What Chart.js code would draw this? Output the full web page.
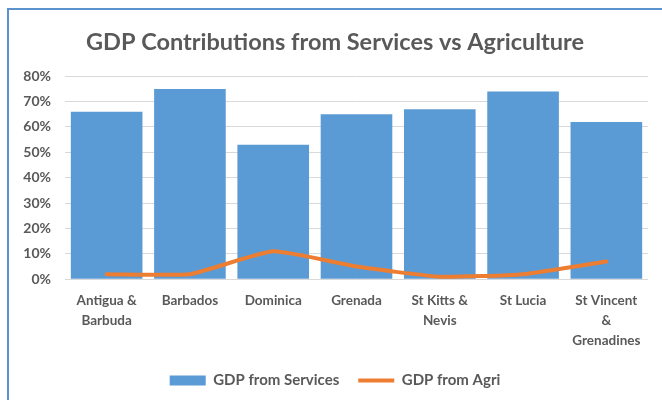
<!DOCTYPE html>
<html>
<head>
<meta charset="utf-8">
<script src="https://cdn.jsdelivr.net/npm/chart.js@4"></script>
<style>
  html, body { margin: 0; padding: 0; background: #fff; overflow: hidden; }
  #wrap { position: relative; width: 662px; height: 400px; }
  #frame { position: absolute; left: 7px; top: 8px; width: 700px; height: 450px;
           border-left: 2px solid #5b93cf; border-top: 2px solid #5b93cf; }
  canvas { position: absolute; left: 0; top: 0; }
</style>
</head>
<body>
<div id="wrap">
  <div id="frame"></div>
  <canvas id="chartCanvas" width="662" height="400"></canvas>
</div>
<script>
const countries = [
  ["Antigua &", "Barbuda"],
  "Barbados",
  "Dominica",
  "Grenada",
  ["St Kitts &", "Nevis"],
  "St Lucia",
  ["St Vincent", "&", "Grenadines"]
];
const services = [66, 75, 53, 65, 67, 74, 62];
const agri = [2, 2, 11, 5, 1, 2, 7];

const grey = "#595959";
const fontFam = "Lato, 'Open Sans', sans-serif";

const ctx = document.getElementById("chartCanvas");

const chart = new Chart(ctx, {
  type: "bar",
  data: {
    labels: countries,
    datasets: [{
      label: "GDP from Services",
      data: services,
      backgroundColor: "#5b9bd5",
      barPercentage: 0.86,
      categoryPercentage: 1,
      order: 1
    }, {
      type: "line",
      label: "GDP from Agri",
      data: agri,
      borderColor: "#ed7d31",
      backgroundColor: "#ed7d31",
      borderWidth: 4,
      pointRadius: 0,
      tension: 0.15,
      borderJoinStyle: "round",
      borderCapStyle: "round",
      order: 0
    }]
  },
  options: {
    responsive: false,
    animation: false,
    layout: { padding: { left: 22, right: 14, top: 10, bottom: 2 } },
    plugins: {
      title: {
        display: true,
        text: "GDP Contributions from Services vs Agriculture",
        color: grey,
        font: { family: fontFam, size: 23.5, weight: "bold" },
        padding: { top: 18, bottom: 20 }
      },
      legend: {
        position: "bottom",
        labels: {
          color: grey,
          font: { family: fontFam, size: 15, weight: "bold" },
          usePointStyle: true,
          pointStyleWidth: 36,
          boxHeight: 10,
          padding: 19,
          sort: (a, b) => a.datasetIndex - b.datasetIndex,
          generateLabels(c) {
            const items = Chart.defaults.plugins.legend.labels.generateLabels(c);
            items.forEach(it => {
              it.pointStyle = it.datasetIndex === 0 ? "rect" : "line";
              it.lineWidth = it.datasetIndex === 0 ? 0 : 4;
            });
            return items;
          }
        }
      },
      tooltip: { enabled: false }
    },
    scales: {
      x: {
        grid: { display: false },
        border: { display: false },
        ticks: {
          color: grey,
          maxRotation: 0,
          autoSkip: false,
          padding: 3,
          font: { family: fontFam, size: 13.5, weight: "bold", lineHeight: 1.5 }
        }
      },
      y: {
        min: 0,
        max: 80,
        border: { display: false },
        grid: { color: "#d9d9d9", lineWidth: 1, drawTicks: false },
        afterFit: s => { s.width = 43; },
        ticks: {
          stepSize: 10,
          color: grey,
          padding: 14,
          font: { family: fontFam, size: 14, weight: "bold" },
          callback: v => v + "%"
        }
      }
    }
  }
});
</script>
</body>
</html>
